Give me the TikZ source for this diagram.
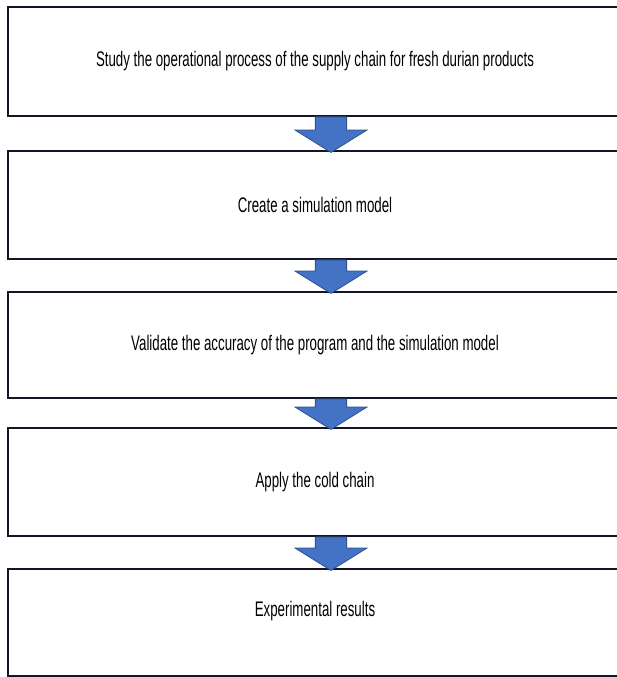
\documentclass[tikz,border=0pt]{standalone}
\usepackage{fontspec}
\setmainfont[FakeStretch=0.63]{Liberation Sans}
\usepackage{xcolor}
\usepackage{tikz}
\usetikzlibrary{arrows.meta, positioning, calc}

\definecolor{flowfill}{RGB}{68,114,196}
\definecolor{flowline}{RGB}{47,82,143}
\definecolor{boxline}{RGB}{18,22,38}

\begin{document}
\begin{tikzpicture}[
                blk/.style  ={draw=boxline, line width=1.4pt, minimum width=15.35cm,
                        inner sep=2pt, align=center, fill=white,
                        font=\fontsize{15pt}{18pt}\selectfont},
                flow/.style ={fill=flowfill, draw=flowline, line width=0.6pt,
                        line join=miter}
            ]

            %% ---- frame of the page ------------------------------------------
            \useasboundingbox (0,0) rectangle (15.425,16.925);
            \clip (0,0) rectangle (15.425,16.925);

            %% ---- the five steps, top to bottom ------------------------------
            \node[blk, minimum height=2.725cm] (s1) at (7.875,15.39)
                {Study the operational process of the supply chain for fresh durian products};
            \node[blk, minimum height=2.7cm]   (s2) at (7.875,11.80) {Create a simulation model};
            \node[blk, minimum height=2.65cm]  (s3) at (7.875,8.30)
                {Validate the accuracy of the program and the simulation model};
            \node[blk, minimum height=2.7cm]   (s4) at (7.875,4.875) {Apply the cold chain};
            \node[blk, minimum height=2.675cm, text depth=0.7cm] (s5) at (7.875,1.3625)
                {Experimental results};

            %% ---- block arrows between the steps -----------------------------
            \coordinate (ax) at (8.275,0);
            \foreach \a/\b in {s1/s2, s2/s3, s3/s4, s4/s5}{
                \draw[flow] ($(ax |- \a.south)+(-0.39,0)$)
                    -- ($(ax |- \b.north)+(-0.39,0.5)$)
                    -- ($(ax |- \b.north)+(-0.9,0.5)$)
                    -- ($(ax |- \b.north)+(0,-0.06)$)
                    -- ($(ax |- \b.north)+(0.9,0.5)$)
                    -- ($(ax |- \b.north)+(0.39,0.5)$)
                    -- ($(ax |- \a.south)+(0.39,0)$) -- cycle;
            }

        \end{tikzpicture}
\end{document}
